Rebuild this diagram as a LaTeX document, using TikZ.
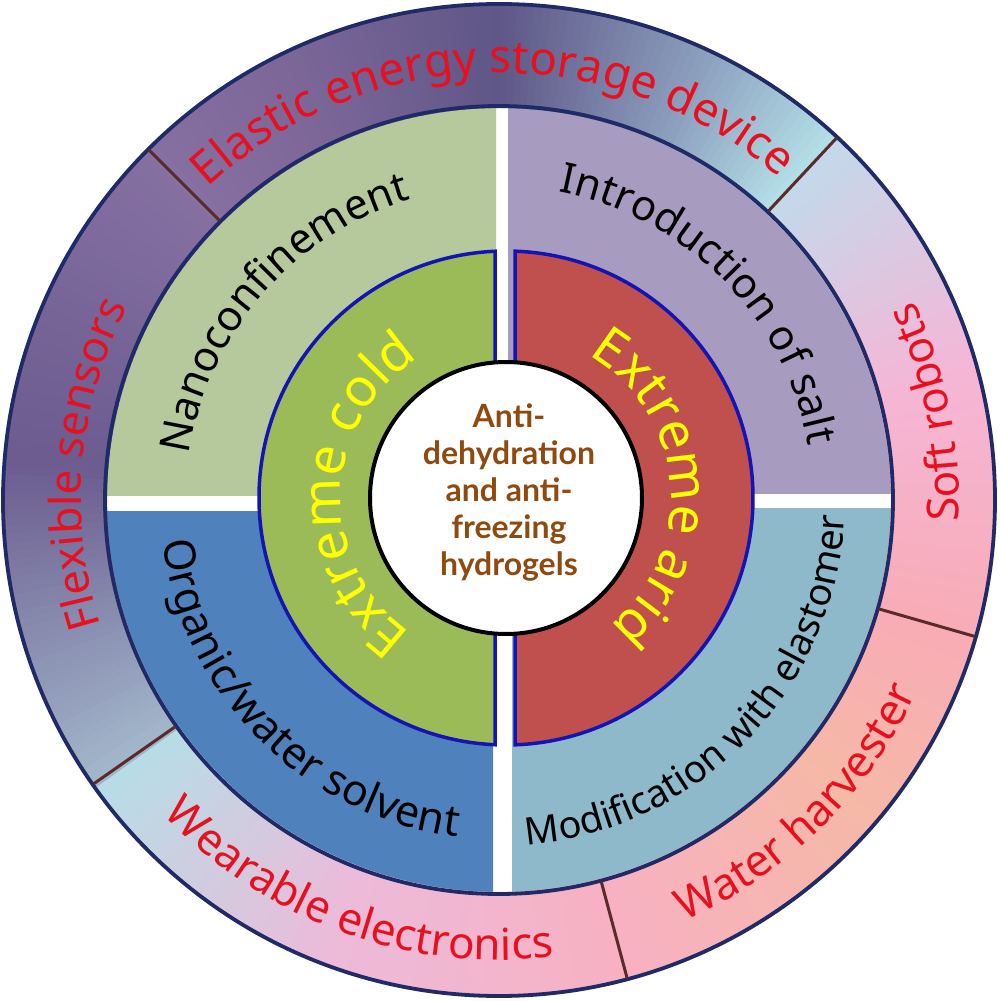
\documentclass[tikz,border=0pt]{standalone}
\usepackage{fontspec}
\setmainfont{Noto Sans}
\newfontfamily\corefont{Lato}
\usetikzlibrary{decorations.text}
\definecolor{qTL}{HTML}{B6C99C}
\definecolor{qTR}{HTML}{A79CBF}
\definecolor{qBL}{HTML}{4F81BD}
\definecolor{qBR}{HTML}{8DB9CA}
\definecolor{coldc}{HTML}{9BBB59}
\definecolor{aridc}{HTML}{C0504D}
\definecolor{hrline}{HTML}{1414B4}
\definecolor{navyc}{HTML}{1F2A66}
\definecolor{divc}{HTML}{5B2B2B}
\definecolor{ringred}{HTML}{E8101E}
\definecolor{brownc}{HTML}{8F4A0F}
\definecolor{yel}{HTML}{FFFF00}
% ring colour stops
\definecolor{gA}{HTML}{B6DDE6}
\definecolor{gB}{HTML}{EDBAD9}
\definecolor{gC}{HTML}{F7B1C2}
\definecolor{gD}{HTML}{F6B8A6}
\definecolor{gE}{HTML}{F8ACB6}
\definecolor{gF}{HTML}{F5B6D6}
\definecolor{gG}{HTML}{C3D9EB}
\definecolor{gH}{HTML}{B4DFE7}
\definecolor{gI}{HTML}{8C9FBE}
\definecolor{gJ}{HTML}{5E5787}
\definecolor{gK}{HTML}{7C6698}
\definecolor{gL}{HTML}{8670A2}
\definecolor{gM}{HTML}{6B5B8F}
\definecolor{gN}{HTML}{A3B8CB}
\newcommand\ringseg[4]{%
  \pgfmathtruncatemacro\nst{abs(#2-#1)}%
  \foreach \k in {1,...,\nst}{%
    \pgfmathsetmacro\aa{#1+(#2-#1)*(\k-1)/\nst}%
    \pgfmathsetmacro\bb{#1+(#2-#1)*\k/\nst+0.5}%
    \pgfmathtruncatemacro\pp{100*(\k-0.5)/\nst}%
    \fill[#4!\pp!#3] (\aa:392) arc[start angle=\aa, end angle=\bb, radius=392]
      -- (\bb:497) arc[start angle=\bb, end angle=\aa, radius=497] -- cycle;
  }}
\tikzset{
  arctext/.style 2 args={decorate, decoration={text along path, text align=center, text={|#1|#2}}},
  hrborder/.style={draw=hrline, line width=1.75pt, line join=miter},
  divider/.style={draw=divc, line width=1.5pt},
  ringborder/.style={draw=navyc, line width=1.9pt},
}
\newcommand\outfont{\color{ringred}\fontsize{22}{26}\selectfont}
\newcommand\topfont{\color{ringred}\fontsize{23}{27}\selectfont}
\newcommand\quadfont{\color{black}\fontsize{21}{24}\selectfont}
\newcommand\orgfont{\color{black}\fontsize{21.5}{24}\selectfont}
\newcommand\modfont{\color{black}\fontsize{19}{22}\selectfont}
\newcommand\hrfont{\color{yel}\fontsize{26.5}{30}\selectfont}
\begin{document}
\begin{tikzpicture}[x=0.5pt,y=0.5pt]
\useasboundingbox[fill=white] (-499,-501) rectangle (501,500);
% quadrants
\begin{scope}\clip (-400,5) rectangle (-3,400); \fill[qTL] (0,0) circle[radius=393]; \end{scope}
\begin{scope}\clip (9,7) rectangle (400,400); \fill[qTR] (0,0) circle[radius=393]; \end{scope}
\begin{scope}\clip (-400,-11) rectangle (-6,-400); \fill[qBL] (0,0) circle[radius=393]; \end{scope}
\begin{scope}\clip (13,-8) rectangle (400,-400); \fill[qBR] (0,0) circle[radius=393]; \end{scope}
% outer ring
\ringseg{-145}{-110}{gA}{gB}
\ringseg{-110}{-75}{gB}{gC}
\ringseg{-75}{-40}{gC}{gD}
\ringseg{-40}{-16}{gD}{gE}
\ringseg{-16}{15}{gE}{gF}
\ringseg{15}{47}{gF}{gG}
\ringseg{47}{65}{gH}{gI}
\ringseg{65}{90}{gI}{gJ}
\ringseg{90}{115}{gJ}{gK}
\ringseg{115}{135}{gK}{gL}
\ringseg{135}{175}{gL}{gM}
\ringseg{175}{215}{gM}{gN}
\draw[ringborder] (0,0) circle[radius=394];
\draw[ringborder] (0,0) circle[radius=496];
\foreach \a in {135,47,-16,-75,-145} \draw[divider] (\a:395) -- (\a:495);
% half rings
\draw[hrborder, fill=coldc] (7,2) ++(92.55:247) arc[start angle=92.55, end angle=267.45, radius=247] -- cycle;
\draw[hrborder, fill=aridc] (7,2) ++(87.91:247) arc[start angle=87.91, end angle=-87.91, radius=247] -- cycle;
% centre
\draw[line width=2pt, fill=white] (7,2) circle[radius=136];
\node[align=center, text=brownc, font=\corefont\bfseries\fontsize{16}{18.5}\selectfont] (core) at (10,8)
  {Anti-\\dehydration\\and anti-\\freezing\\hydrogels};
% outer ring texts
\path[arctext={\topfont}{Elastic energy storage device}] (134:427) arc[start angle=134, end angle=48, radius=427];
\path[arctext={\outfont}{Flexible sensors}] (214:418) arc[start angle=214, end angle=136, radius=418];
\path[arctext={\outfont}{Soft robots}] (-19:460) arc[start angle=-19, end angle=42, radius=460];
\path[arctext={\outfont}{Water harvester}] (-74:460) arc[start angle=-74, end angle=-17, radius=460];
\path[arctext={\outfont}{Wearable electronics}] (-144:460) arc[start angle=-144, end angle=-76, radius=460];
% quadrant texts
\path[arctext={\quadfont}{Nanoconfinement}] (182:313) arc[start angle=182, end angle=96, radius=313];
\path[arctext={\quadfont}{Introduction of salt}] (88:314) arc[start angle=88, end angle=1, radius=314];
\path[arctext={\orgfont}{Organic/water solvent}] (182:339) arc[start angle=182, end angle=268, radius=339];
\path[arctext={\modfont}{Modification with elastomer}] (-89:346) arc[start angle=-89, end angle=1, radius=346];
% half ring texts
\path[arctext={\hrfont}{Extreme cold}] (7,2) ++(250:165) arc[start angle=250, end angle=107, radius=165];
\path[arctext={\hrfont}{Extreme arid}] (7,2) ++(75:165) arc[start angle=75, end angle=-66, radius=165];
\end{tikzpicture}
\end{document}
